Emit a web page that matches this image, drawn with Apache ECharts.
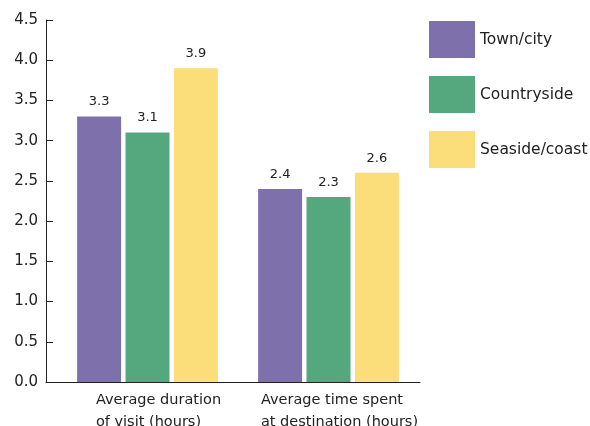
<!DOCTYPE html>
<html>
<head>
<meta charset="utf-8">
<script src="https://cdn.jsdelivr.net/npm/echarts@6/dist/echarts.min.js"></script>
<style>
  html, body { margin: 0; padding: 0; background: #fff; }
  #chart { width: 590px; height: 426px; }
</style>
</head>
<body>
<div id="chart"></div>
<script>
// Visit measures (x categories) and destination types (series)
const categories = ['Average duration\nof visit (hours)', 'Average time spent\nat destination (hours)'];
const seriesNames = ['Town/city', 'Countryside', 'Seaside/coast'];
const townCity = [3.3, 2.4];
const countryside = [3.1, 2.3];
const seasideCoast = [3.9, 2.6];
const yTicks = [0, 0.5, 1.0, 1.5, 2.0, 2.5, 3.0, 3.5, 4.0, 4.5];

const colors = ['#7e70ab', '#55a77e', '#fbdd7a'];
const FONT = 'DejaVu Sans';
const values = [townCity, countryside, seasideCoast];

const chart = echarts.init(document.getElementById('chart'), null, { renderer: 'canvas' });

chart.setOption({
  animation: false,
  textStyle: { fontFamily: FONT, color: '#222' },
  legend: {
    orient: 'vertical',
    left: 429,
    top: 21,
    padding: 0,
    itemWidth: 46,
    itemHeight: 37,
    itemGap: 18,
    icon: 'rect',
    selectedMode: false,
    textStyle: { fontFamily: FONT, fontSize: 15.5, color: '#222' },
    data: seriesNames
  },
  grid: [
    // frame: y axis and full-width baseline
    { left: 46, right: 170, top: 20, bottom: 44, outerBoundsMode: 'none', containLabel: false },
    // bar area
    { left: 57, width: 362, top: 20, bottom: 44, outerBoundsMode: 'none', containLabel: false }
  ],
  xAxis: [
    {
      gridIndex: 0, type: 'category', data: ['', ''],
      axisLine: { show: true, lineStyle: { color: '#222', width: 1 } },
      axisTick: { show: false }, axisLabel: { show: false }, splitLine: { show: false }
    },
    {
      gridIndex: 1, type: 'category', data: categories,
      axisLine: { show: false }, axisTick: { show: false }, splitLine: { show: false },
      axisLabel: {
        interval: 0,
        hideOverlap: false,
        margin: 7,
        align: 'center',
        padding: [0, 0, 0, 22],
        formatter: v => v.split('\n').map(s => '{t|' + s + '}').join('\n'),
        rich: { t: { align: 'left', fontFamily: FONT, fontSize: 14.5, color: '#222', lineHeight: 22 } }
      }
    }
  ],
  yAxis: [
    {
      gridIndex: 0, type: 'value', min: yTicks[0], max: yTicks[yTicks.length - 1], interval: 0.5,
      axisLine: { show: true, lineStyle: { color: '#222', width: 1 } },
      axisTick: { show: true, inside: true, length: 7, lineStyle: { color: '#222' } },
      splitLine: { show: false },
      axisLabel: {
        margin: 8,
        fontFamily: FONT, fontSize: 15, color: '#222',
        formatter: v => v.toFixed(1)
      }
    },
    {
      gridIndex: 1, type: 'value', min: yTicks[0], max: yTicks[yTicks.length - 1], interval: 0.5,
      show: false
    }
  ],
  series: seriesNames.map((name, i) => ({
    name,
    type: 'bar',
    xAxisIndex: 1,
    yAxisIndex: 1,
    data: values[i],
    barWidth: 44,
    barGap: '10%',
    itemStyle: { color: colors[i] },
    label: {
      show: true, position: 'top', distance: 8,
      fontFamily: FONT, fontSize: 13, color: '#222',
      formatter: p => p.value.toFixed(1)
    }
  }))
});
</script>
</body>
</html>
